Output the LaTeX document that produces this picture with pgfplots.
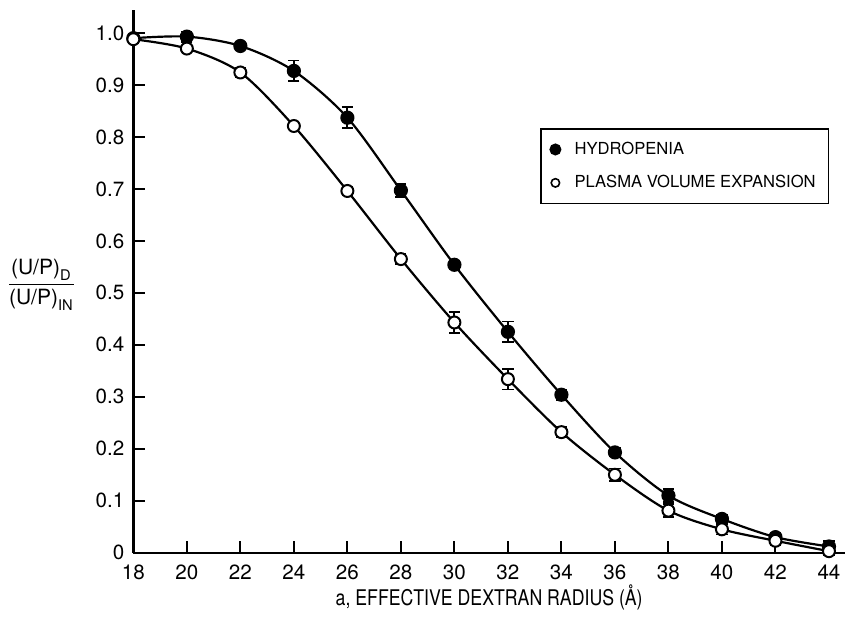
\documentclass[border=0pt]{standalone}
\usepackage{amsmath}
\usepackage{pgfplots}
\pgfplotsset{compat=1.18}
\usepackage{fontspec}
\setmainfont{TeX Gyre Heros}
\newfontfamily\labfont[FakeStretch=0.82]{TeX Gyre Heros}
\begin{document}
\begin{tikzpicture}
\begin{axis}[
  name=ax,
  scale only axis, width=356pt, height=271.7pt,
  xmin=18, xmax=44.6, ymin=0, ymax=1.045,
  axis lines*=left,
  axis line style={line width=1.2pt,-},
  xtick={18,20,22,24,26,28,30,32,34,36,38,40,42,44},
  xticklabels={18,20,22,24,26,28,30,32,34,36,38,40,42,44},
  ytick={0,0.1,0.2,0.3,0.4,0.5,0.6,0.7,0.8,0.9,1.0},
  yticklabels={0,0.1,0.2,0.3,0.4,0.5,0.6,0.7,0.8,0.9,1.0},
  tick align=inside, major tick length=6pt,
  tick style={line width=1pt,black},
  ticklabel style={font=\fontsize{10.3}{12}\selectfont},
  xticklabel style={yshift=-2.5pt},
  yticklabel style={xshift=-1pt},
  clip=false,
  legend style={at={(axis description cs:0.572,0.782)},anchor=north west,
    draw=black,line width=0.8pt,font=\fontsize{8.3}{10}\selectfont,
    row sep=5pt,inner xsep=4.5pt,inner ysep=4.5pt,
    legend cell align=left},
  legend image code/.code={\draw[#1] plot coordinates {(0cm,0cm)};},
]
\addlegendimage{only marks,mark=*,mark size=2.6pt,black}
\addlegendentry{\hspace*{5pt}HYDROPENIA}
\addlegendimage{only marks,mark=o,mark size=2.1pt,black,line width=0.8pt}
\addlegendentry{\hspace*{5pt}PLASMA VOLUME EXPANSION}

% Hydropenia
\addplot[black,line width=1.1pt,smooth,tension=0.5,mark=*,mark size=3pt,
  mark options={fill=black},
  error bars/.cd,y dir=both,y explicit,error bar style={line width=0.9pt},
  error mark options={rotate=90,mark size=2.8pt,line width=0.9pt}]
coordinates {
(18,0.990) +- (0,0.006)
(20,0.993) +- (0,0.010)
(22,0.975) +- (0,0.006)
(24,0.927) +- (0,0.020)
(26,0.837) +- (0,0.020)
(28,0.697) +- (0,0.012)
(30,0.554) +- (0,0.008)
(32,0.425) +- (0,0.020)
(34,0.304) +- (0,0.010)
(36,0.193) +- (0,0.008)
(38,0.110) +- (0,0.012)
(40,0.065) +- (0,0.008)
(42,0.030) +- (0,0.008)
(44,0.012) +- (0,0.010)
};

% Plasma volume expansion
\addplot[black,line width=1.1pt,smooth,tension=0.5,mark=*,mark size=3pt,
  mark options={fill=white,line width=1pt},
  error bars/.cd,y dir=both,y explicit,error bar style={line width=0.9pt},
  error mark options={rotate=90,mark size=2.8pt,line width=0.9pt}]
coordinates {
(18,0.988) +- (0,0.008)
(20,0.970) +- (0,0.005)
(22,0.924) +- (0,0.008)
(24,0.821) +- (0,0.006)
(26,0.696) +- (0,0.008)
(28,0.565) +- (0,0.010)
(30,0.443) +- (0,0.020)
(32,0.334) +- (0,0.020)
(34,0.232) +- (0,0.010)
(36,0.150) +- (0,0.012)
(38,0.081) +- (0,0.012)
(40,0.045) +- (0,0.010)
(42,0.023) +- (0,0.008)
(44,0.003) +- (0,0.008)
};
\end{axis}
% axis labels
\node[anchor=center,font=\fontsize{10.8}{12}\selectfont] at ([yshift=-22.5pt]ax.south)
  {\labfont a, EFFECTIVE DEXTRAN RADIUS (Å)};
\node[anchor=center,font=\fontsize{10.5}{12}\selectfont] at ([xshift=-46pt,yshift=134pt]ax.south west)
  {$\dfrac{\text{(U/P)}_{\text{D}}}{\text{(U/P)}_{\text{IN}}}$};
% fixed page frame
\path[draw=none] ([xshift=-66.5pt,yshift=-33pt]ax.south west) rectangle ([xshift=358.5pt,yshift=276.5pt]ax.south west);
\end{tikzpicture}
\end{document}
